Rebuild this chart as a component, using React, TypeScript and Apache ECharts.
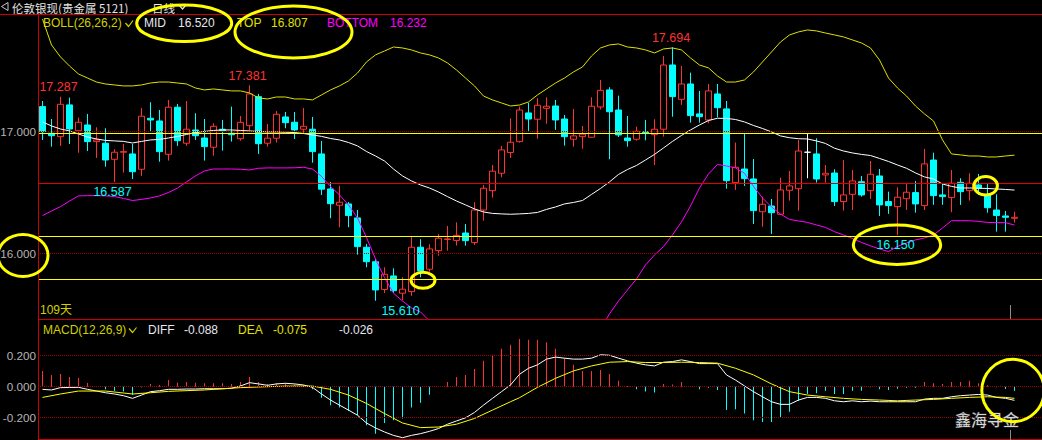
import React, { useEffect, useRef } from "react";
import * as echarts from "echarts";

// ---------- candle data (index 0..108) ----------
const OPEN = [17.206,16.987,16.959,17.220,17.008,17.055,16.918,16.905,16.773,16.831,16.817,16.691,17.110,17.088,16.814,17.201,16.905,17.014,16.948,16.872,17.020,16.987,16.942,17.049,17.288,16.905,16.946,17.121,17.077,17.020,17.020,16.817,16.529,16.395,16.406,16.291,16.050,15.931,15.703,15.814,15.672,15.685,16.050,15.869,16.022,16.114,16.106,16.167,16.088,16.356,16.515,16.658,16.829,16.918,17.154,17.102,17.192,17.211,17.104,16.938,16.959,16.954,17.203,17.343,17.178,16.948,16.938,17.000,16.975,17.020,17.548,17.266,17.392,17.146,17.096,17.310,17.187,16.581,16.693,16.611,16.342,16.389,16.321,16.518,16.531,16.831,16.817,16.644,16.660,16.425,16.485,16.589,16.515,16.636,16.425,16.384,16.449,16.499,16.392,16.767,16.480,16.458,16.584,16.515,16.562,16.480,16.356,16.307,16.288];
const CLOSE = [17.000,16.967,17.225,17.022,17.077,16.918,16.932,16.767,16.831,16.836,16.671,17.127,17.096,16.836,17.201,16.926,17.020,16.967,16.877,17.044,17.008,16.975,17.077,17.310,16.901,16.946,17.143,17.074,17.014,17.044,16.836,16.527,16.408,16.420,16.310,16.055,15.931,15.699,15.828,15.693,15.705,16.050,15.855,16.036,16.124,16.118,16.147,16.104,16.356,16.535,16.675,16.850,16.913,17.178,17.104,17.217,17.209,17.096,16.959,16.965,16.979,17.209,17.340,17.164,16.973,16.926,17.003,16.987,17.020,17.548,17.288,17.392,17.132,17.123,17.335,17.197,16.597,16.707,16.614,16.351,16.403,16.334,16.521,16.554,16.841,16.831,16.611,16.658,16.425,16.480,16.595,16.480,16.650,16.398,16.392,16.461,16.502,16.406,16.735,16.474,16.466,16.576,16.507,16.576,16.535,16.375,16.310,16.296,16.296];
const LOW = [16.932,16.877,16.883,16.899,16.827,16.841,16.784,16.712,16.587,16.663,16.611,16.636,17.000,16.753,16.762,16.883,16.883,16.932,16.762,16.803,16.844,16.918,16.926,17.008,16.817,16.877,16.910,17.028,16.940,16.981,16.745,16.480,16.288,16.214,16.214,15.989,15.885,15.610,15.674,15.674,15.615,15.650,15.803,15.849,15.981,16.022,16.063,16.063,16.069,16.268,16.458,16.625,16.784,16.910,17.000,16.942,17.066,17.014,16.885,16.877,16.860,16.950,17.182,16.773,16.956,16.877,16.926,16.929,16.726,16.959,17.123,17.220,17.074,17.074,17.069,17.118,16.531,16.521,16.554,16.241,16.219,16.159,16.315,16.433,16.351,16.617,16.581,16.581,16.389,16.351,16.356,16.466,16.447,16.307,16.324,16.150,16.356,16.334,16.356,16.398,16.398,16.338,16.398,16.433,16.480,16.334,16.178,16.178,16.252];
const HIGH = [17.252,17.104,17.287,17.280,17.115,17.146,17.036,17.028,16.855,16.899,16.899,17.195,17.242,17.178,17.261,17.228,17.252,17.151,17.104,17.069,17.096,17.206,17.129,17.381,17.310,17.063,17.170,17.162,17.162,17.195,17.121,16.924,16.587,16.554,16.422,16.356,16.077,15.954,15.885,15.877,15.803,16.137,16.116,16.075,16.157,16.225,16.255,16.241,16.420,16.562,16.726,16.883,17.110,17.206,17.238,17.275,17.283,17.261,17.137,17.187,17.047,17.283,17.425,17.365,17.296,17.129,17.041,17.096,17.102,17.622,17.694,17.540,17.485,17.335,17.392,17.392,17.252,16.910,16.987,16.776,16.466,16.447,16.622,16.677,16.932,16.987,16.946,16.726,16.691,16.767,16.685,16.636,16.759,16.693,16.507,16.543,16.576,16.595,16.858,16.827,16.570,16.685,16.617,16.658,16.652,16.570,16.485,16.348,16.342];

// ---------- BOLL(26,26,2) ----------
const BOLL_MID = [17.080,17.047,17.022,17.006,16.981,16.956,16.940,16.928,16.924,16.920,16.907,16.920,16.932,16.936,16.948,16.961,16.977,16.993,17.002,17.010,17.014,17.014,17.010,17.006,17.002,16.998,16.998,16.995,16.993,16.985,16.973,16.961,16.944,16.932,16.911,16.883,16.837,16.800,16.759,16.693,16.636,16.595,16.562,16.537,16.504,16.466,16.430,16.398,16.365,16.340,16.328,16.324,16.321,16.324,16.328,16.336,16.361,16.381,16.406,16.418,16.434,16.484,16.533,16.587,16.648,16.689,16.722,16.767,16.813,16.866,16.920,16.969,17.014,17.055,17.092,17.110,17.109,17.100,17.080,17.051,17.026,16.998,16.965,16.950,16.942,16.940,16.924,16.903,16.864,16.841,16.825,16.813,16.804,16.780,16.755,16.726,16.699,16.661,16.628,16.611,16.570,16.550,16.537,16.537,16.535,16.533,16.529,16.525,16.520];
const BOLL_TOP = [17.926,17.713,17.614,17.540,17.474,17.441,17.408,17.392,17.384,17.376,17.376,17.384,17.400,17.408,17.408,17.400,17.392,17.359,17.343,17.351,17.343,17.335,17.335,17.318,17.277,17.269,17.285,17.285,17.269,17.269,17.261,17.302,17.343,17.376,17.417,17.482,17.573,17.631,17.663,17.696,17.688,17.672,17.647,17.631,17.606,17.565,17.507,17.441,17.376,17.293,17.261,17.236,17.211,17.219,17.244,17.302,17.351,17.400,17.441,17.491,17.532,17.622,17.688,17.713,17.721,17.696,17.688,17.672,17.647,17.680,17.688,17.672,17.606,17.548,17.524,17.458,17.408,17.408,17.425,17.491,17.573,17.655,17.737,17.795,17.820,17.836,17.828,17.811,17.795,17.779,17.754,17.729,17.688,17.589,17.441,17.359,17.293,17.211,17.146,17.088,16.932,16.817,16.809,16.800,16.800,16.792,16.792,16.800,16.807];
const BOLL_BOTTOM = [16.310,16.348,16.384,16.430,16.472,16.474,16.474,16.472,16.467,16.451,16.434,16.443,16.455,16.472,16.500,16.537,16.587,16.636,16.677,16.693,16.693,16.693,16.691,16.685,16.699,16.702,16.702,16.702,16.703,16.707,16.693,16.632,16.550,16.480,16.398,16.291,16.130,15.954,15.800,15.672,15.608,15.551,15.518,15.444,15.403,15.367,15.354,15.354,15.354,15.386,15.395,15.411,15.431,15.428,15.411,15.370,15.370,15.362,15.370,15.345,15.337,15.345,15.378,15.502,15.608,15.699,15.789,15.904,15.986,16.055,16.151,16.258,16.389,16.537,16.652,16.730,16.718,16.702,16.658,16.550,16.455,16.381,16.323,16.278,16.266,16.254,16.233,16.213,16.178,16.151,16.122,16.089,16.061,16.036,16.014,16.056,16.085,16.110,16.126,16.151,16.208,16.268,16.268,16.268,16.262,16.254,16.252,16.252,16.232];

// ---------- MACD(12,26,9) ----------
const MACD_BAR = [0.102,0.076,0.082,0.063,0.056,0.024,0.005,-0.017,-0.026,-0.031,-0.052,-0.004,0.017,0.011,0.043,0.026,0.030,0.026,0.022,0.022,0.022,0.017,0.030,0.063,0.030,0.017,0.024,0.024,0.015,0.009,-0.017,-0.071,-0.119,-0.134,-0.156,-0.184,-0.249,-0.303,-0.234,-0.216,-0.205,-0.134,-0.104,-0.052,0.003,0.030,0.063,0.076,0.115,0.167,0.206,0.245,0.271,0.308,0.303,0.303,0.286,0.245,0.184,0.141,0.102,0.102,0.108,0.082,0.039,0.004,-0.017,-0.031,-0.037,0.017,0.015,0.030,0.002,-0.017,-0.006,-0.022,-0.151,-0.145,-0.173,-0.216,-0.227,-0.227,-0.195,-0.162,-0.093,-0.047,-0.043,-0.026,-0.047,-0.047,-0.026,-0.026,-0.004,-0.017,-0.022,-0.013,-0.006,-0.006,0.030,0.022,0.017,0.030,0.030,0.039,0.022,0.009,-0.004,-0.015,-0.026];
const DIFF = [-0.017,-0.021,-0.006,-0.005,-0.004,-0.017,-0.028,-0.039,-0.047,-0.058,-0.075,-0.054,-0.032,-0.026,-0.017,-0.017,-0.015,-0.015,-0.013,-0.013,-0.013,-0.010,0.005,0.026,0.018,0.009,0.018,0.022,0.018,0.011,-0.004,-0.047,-0.086,-0.119,-0.151,-0.184,-0.234,-0.266,-0.292,-0.314,-0.329,-0.314,-0.303,-0.288,-0.270,-0.242,-0.221,-0.201,-0.166,-0.119,-0.075,-0.032,0.011,0.080,0.119,0.141,0.178,0.191,0.184,0.178,0.178,0.184,0.206,0.203,0.184,0.167,0.152,0.141,0.134,0.158,0.162,0.173,0.162,0.149,0.149,0.149,0.076,0.043,0.005,-0.032,-0.065,-0.097,-0.114,-0.114,-0.086,-0.069,-0.069,-0.075,-0.091,-0.097,-0.091,-0.097,-0.093,-0.097,-0.097,-0.097,-0.097,-0.097,-0.080,-0.075,-0.075,-0.065,-0.058,-0.054,-0.050,-0.054,-0.069,-0.075,-0.088];
const DEA_POINTS = [[0,-0.069],[2,-0.047],[4,-0.028],[7,-0.028],[10,-0.047],[12,-0.039],[14,-0.030],[18,-0.021],[22,-0.006],[24,-0.002],[27,0.004],[30,0.004],[32,-0.017],[34,-0.054],[36,-0.108],[38,-0.173],[40,-0.234],[42,-0.264],[44,-0.260],[46,-0.242],[48,-0.205],[50,-0.151],[52,-0.097],[53,-0.071],[55,-0.004],[57,0.054],[59,0.102],[61,0.134],[63,0.158],[65,0.162],[67,0.156],[69,0.156],[71,0.158],[73,0.156],[75,0.152],[77,0.119],[79,0.076],[81,0.018],[83,-0.032],[85,-0.054],[87,-0.065],[89,-0.075],[91,-0.082],[93,-0.086],[95,-0.091],[97,-0.086],[99,-0.082],[101,-0.075],[103,-0.069],[105,-0.065],[107,-0.069],[108,-0.075]];

// ---------- ticks, drawn lines, marked extremes ----------
const PRICE_TICKS = [17, 16];
const MACD_TICKS = [0.2, 0, -0.2];
const YELLOW_LINES = [16.987, 16.137, 15.789];
const RED_LINES = [16.578];
const HIGH_MARKS = [[2, 17.287], [23, 17.381], [70, 17.694]];
const LOW_MARKS = [[8, 16.587], [37, 15.610], [95, 16.150]];

const RED = "#ff3232";
const CYAN = "#00ffff";
const FRAME = "#cc0000";
const NUM = '"Liberation Sans", Arial, sans-serif';
const CJK = '"Noto Sans CJK SC", sans-serif';

export default function App() {
  const ref = useRef<HTMLDivElement>(null);
  useEffect(() => {
    const chart = echarts.init(ref.current!, null, { renderer: "svg" });
    const pairs = (arr: number[]) => arr.map((v, i) => [i, v]);
    const candles = OPEN.map((o, i) => [i, o, CLOSE[i], LOW[i], HIGH[i]]);
    const last = OPEN.length - 1;

    const text = (x: number, y: number, t: string, fill: string, size = 12, family = NUM) => ({
      type: "text", x, y, silent: true,
      style: { text: t, fill, font: `${size}px ${family}`, textAlign: "left", textVerticalAlign: "middle" },
    });
    const ell = (cx: number, cy: number, rx: number, ry: number) => ({
      type: "ellipse", silent: true, z: 100,
      shape: { cx, cy, rx, ry },
      style: { fill: "none", stroke: "#ffff00", lineWidth: 3 },
    });
    const seg = (x1: number, y1: number, x2: number, y2: number, stroke: string) => ({
      type: "line", silent: true, z: 50,
      shape: { x1, y1, x2, y2 }, style: { stroke, lineWidth: 1 },
    });
    const chev = (pts: number[][], stroke: string) => ({
      type: "polyline", silent: true, shape: { points: pts }, style: { stroke, fill: "none", lineWidth: 1.2 },
    });

    const tickLine = (v: number, label: string) => ({
      yAxis: v,
      lineStyle: { color: "#a00000", type: "dotted", width: 1 },
      label: { show: true, position: "start", formatter: label, color: "#b4b4b4", fontSize: 11.7, fontFamily: NUM, distance: 2 },
    });
    const plainLine = (v: number, color: string) => ({
      yAxis: v, lineStyle: { color, type: "solid", width: 1 }, label: { show: false },
    });

    const highOffsets = [[-2, -10], [-2, -9], [-1.5, -9.5]];
    const lowOffsets = [[-2, 10], [25, 10], [-2, 10]];
    const markData = [
      ...HIGH_MARKS.map((m, k) => ({
        coord: [m[0], m[1]],
        label: { show: true, position: "inside", formatter: m[1].toFixed(3), color: RED, offset: highOffsets[k], fontSize: 12.5, fontFamily: NUM },
      })),
      ...LOW_MARKS.map((m, k) => ({
        coord: [m[0], m[1]],
        label: { show: true, position: "inside", formatter: m[1].toFixed(3), color: CYAN, offset: lowOffsets[k], fontSize: 12.5, fontFamily: NUM },
      })),
    ];

    const xAxisBase = { type: "value", min: -0.5, max: 111.0556, show: false, splitLine: { show: false } };

    chart.setOption({
      animation: false,
      backgroundColor: "#000000",
      grid: [
        { left: 38, right: 0, top: 15, height: 304 },
        { left: 38, right: 0, top: 319, height: 120 },
      ],
      xAxis: [
        { ...xAxisBase, gridIndex: 0 },
        { ...xAxisBase, gridIndex: 1 },
      ],
      yAxis: [
        { type: "value", gridIndex: 0, min: 15.46, max: 17.959, show: false, splitLine: { show: false } },
        { type: "value", gridIndex: 1, min: -0.3374, max: 0.4368, show: false, splitLine: { show: false } },
      ],
      series: [
        {
          type: "candlestick", xAxisIndex: 0, yAxisIndex: 0, z: 3,
          encode: { x: 0, y: [1, 2, 3, 4] },
          data: candles, barWidth: 7,
          itemStyle: { color: "#000000", color0: CYAN, borderColor: RED, borderColor0: CYAN, borderColorDoji: "#ffffff", borderWidth: 1 },
          markPoint: { symbol: "rect", symbolSize: 1, itemStyle: { color: "rgba(0,0,0,0)" }, silent: true, animation: false, data: markData },
        },
        {
          type: "line", xAxisIndex: 0, yAxisIndex: 0, data: pairs(BOLL_MID), showSymbol: false, symbol: "none", z: 4,
          lineStyle: { color: "#ffffff", width: 1 },
          markLine: {
            silent: true, symbol: ["none", "none"], animation: false,
            data: [
              ...PRICE_TICKS.map((v) => tickLine(v, v.toFixed(3))),
              ...YELLOW_LINES.map((v) => plainLine(v, "#ffff00")),
              ...RED_LINES.map((v) => plainLine(v, "#e00000")),
            ],
          },
        },
        { type: "line", xAxisIndex: 0, yAxisIndex: 0, data: pairs(BOLL_TOP), symbol: "none", z: 4, lineStyle: { color: "#e0e000", width: 1 } },
        { type: "line", xAxisIndex: 0, yAxisIndex: 0, data: pairs(BOLL_BOTTOM), symbol: "none", z: 4, lineStyle: { color: "#ff00ff", width: 1 } },
        {
          type: "bar", xAxisIndex: 1, yAxisIndex: 1, data: pairs(MACD_BAR), barWidth: 1, z: 2,
          itemStyle: { color: (p: any) => (p.value[1] >= 0 ? RED : CYAN) },
          markLine: {
            silent: true, symbol: ["none", "none"], animation: false,
            data: MACD_TICKS.map((v) => tickLine(v, v.toFixed(3))),
          },
        },
        { type: "line", xAxisIndex: 1, yAxisIndex: 1, data: pairs(DIFF), symbol: "none", z: 4, lineStyle: { color: "#ffffff", width: 1 } },
        { type: "line", xAxisIndex: 1, yAxisIndex: 1, data: DEA_POINTS, symbol: "none", z: 4, lineStyle: { color: "#ffff00", width: 1 } },
      ],
      graphic: [
        // frame
        seg(0, 14.5, 1042, 14.5, FRAME),
        seg(38.5, 14.5, 38.5, 440, FRAME),
        seg(38.5, 319.5, 1042, 319.5, FRAME),
        seg(38.5, 439.5, 1042, 439.5, FRAME),
        seg(1010.5, 305, 1010.5, 319, "#8c8c8c"),
        seg(1010.5, 430, 1010.5, 440, "#8c8c8c"),
        // title row
        { type: "polygon", silent: true, shape: { points: [[8, 2.5], [1.5, 6.5], [8, 10.5]] }, style: { stroke: "#c8c8c8", fill: "none", lineWidth: 1 } },
        text(12, 7.5, "伦敦银现(贵金属 5121)", "#e6e6e6", 11.5, CJK),
        text(152, 7.5, "日线", "#e6e6e6", 11.5, CJK),
        chev([[179, 5], [182.5, 9], [186, 5]], "#e6e6e6"),
        // BOLL header
        text(43, 23, "BOLL(26,26,2)", "#d0d000"),
        chev([[125.5, 23], [128.5, 26.5], [133, 20.5]], "#d0d000"),
        text(144, 23, "MID", "#e6e6f0"),
        text(178, 23, BOLL_MID[last].toFixed(3), "#e6e6f0"),
        text(237, 23, "TOP", "#e0e000"),
        text(271, 23, BOLL_TOP[last].toFixed(3), "#e0e000"),
        text(327, 23, "BOTTOM", "#ff00ff"),
        text(390, 23, BOLL_BOTTOM[last].toFixed(3), "#ff00ff"),
        text(40, 310, `${OPEN.length}天`, "#d0d000", 12, `${NUM.split(",")[0]}, ${CJK}`),
        // MACD header
        text(43, 329.5, "MACD(12,26,9)", "#d0d000"),
        chev([[129, 328.5], [132.5, 332.5], [136.5, 327.5]], "#d0d000"),
        text(148, 329.5, "DIFF", "#e6e6f0"),
        text(184, 329.5, DIFF[last].toFixed(3), "#e6e6f0"),
        text(238, 329.5, "DEA", "#e0e000"),
        text(273, 329.5, DEA_POINTS[DEA_POINTS.length - 1][1].toFixed(3), "#e0e000"),
        text(339, 329.5, MACD_BAR[last].toFixed(3), "#e6e6f0"),
        // watermark
        { type: "text", x: 955, y: 418.5, silent: true, z: 60,
          style: { text: "鑫海寻金", fill: "#d8d8d8", font: `16px ${CJK}`, textAlign: "left", textVerticalAlign: "middle", stroke: "#303030", lineWidth: 1 } },
        // annotation ellipses
        ell(184.2, 23.3, 47.5, 18.3),
        ell(293.5, 32, 58.5, 26),
        ell(23, 255.5, 25, 21),
        ell(423, 280.3, 12, 8),
        ell(897, 244.7, 43.7, 19.7),
        ell(985.7, 185.8, 11.7, 9.2),
        ell(1013, 390.5, 31.2, 31.2),
      ],
    });
    return () => chart.dispose();
  }, []);
  return (
    <div
      ref={ref}
      style={{ position: "absolute", left: 0, top: 0, width: 1042, height: 440, background: "#000" }}
    />
  );
}
